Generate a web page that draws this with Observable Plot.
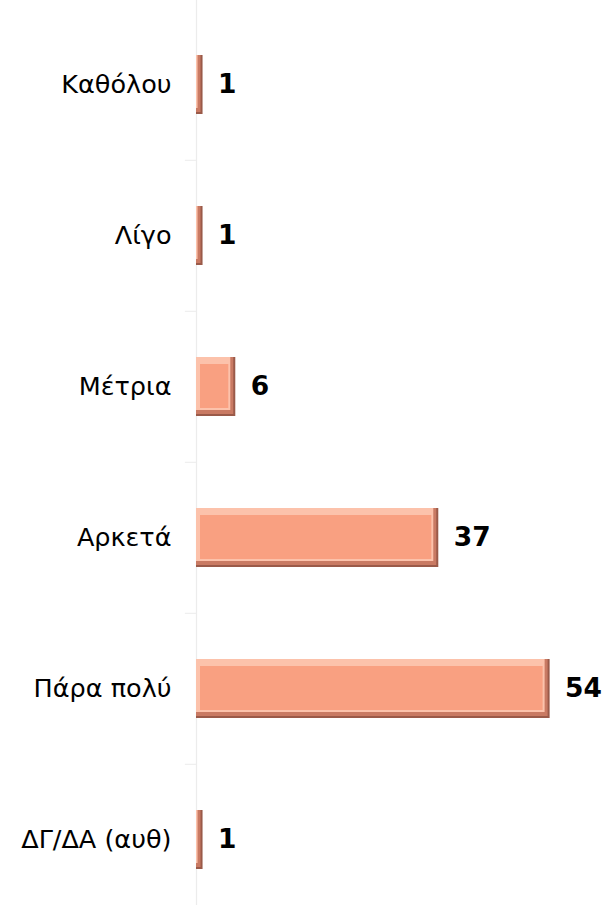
<!DOCTYPE html>
<html>
<head>
<meta charset="utf-8">
<script src="https://cdn.jsdelivr.net/npm/d3@7"></script>
<script src="https://cdn.jsdelivr.net/npm/@observablehq/plot@0.6"></script>
<style>
  html, body { margin: 0; padding: 0; background: #fff; }
  #chart svg { display: block; }
</style>
</head>
<body>
<div id="chart"></div>
<script>
const categories = ["Καθόλου", "Λίγο", "Μέτρια", "Αρκετά", "Πάρα πολύ", "ΔΓ/ΔΑ (αυθ)"];
const values = [1, 1, 6, 37, 54, 1];

const data = categories.map((c, i) => ({category: c, value: values[i]}));

const W = 607, H = 905;
const pInner = 0.61, pOuter = 0.294, align = 0.6;
const step = H / (categories.length - pInner + 2 * pOuter);

const font = "DejaVu Sans, Verdana, sans-serif";

const chart = Plot.plot({
  width: W,
  height: H,
  marginLeft: 196,
  marginRight: 5,
  marginTop: 0,
  marginBottom: 0,
  style: {fontFamily: font, background: "#fff"},
  x: {domain: [0, 62], axis: null},
  y: {domain: categories, paddingInner: pInner, paddingOuter: pOuter, align: align, label: null},
  marks: [
    Plot.ruleX([0], {stroke: "#ececec", strokeWidth: 1.2}),
    Plot.ruleY(categories.slice(1), {y: d => d, x1: -1.7, x2: 0, stroke: "#ececec", dy: -step / 2}),
    Plot.axisY({tickSize: 0, tickPadding: 25, fontSize: 25.5, fill: "#000", label: null}),
    // bevel: dark edge
    Plot.barX(data, {y: "category", x: "value", fill: "#9a5a49"}),
    // mid edge
    Plot.barX(data, {y: "category", x: "value", fill: "#c97a63", insetRight: 2, insetBottom: 2}),
    // light highlight
    Plot.barX(data, {y: "category", x: "value", fill: "#fcc2ab", insetRight: 5, insetBottom: 6}),
    // main face
    Plot.barX(data, {y: "category", x: "value", fill: "#f9a081", insetLeft: 4, insetTop: 7, insetRight: 7, insetBottom: 8}),
    Plot.text(data, {y: "category", x: "value", text: d => String(d.value), textAnchor: "start", dx: 15,
      fontSize: 26.5, fontWeight: "bold", fill: "#000"})
  ]
});
document.getElementById("chart").append(chart);
</script>
</body>
</html>
